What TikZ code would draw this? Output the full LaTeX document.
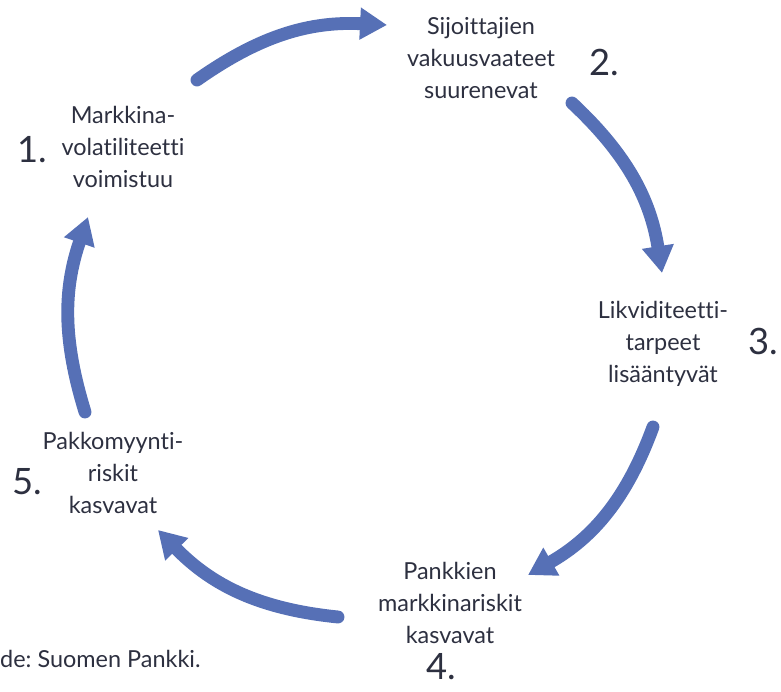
\documentclass[tikz,border=0pt]{standalone}
\usepackage{fontspec}
\setmainfont{Lato}[Ligatures={NoCommon}]
\usepackage{tikz}
\usetikzlibrary{arrows.meta}
\definecolor{cycblue}{RGB}{86,112,182}
\definecolor{txtgray}{RGB}{45,48,64}
\frenchspacing

\begin{document}
\begin{tikzpicture}[x=0.03cm, y=0.03cm,
        every node/.style={text=txtgray, inner sep=0pt},
        lbl/.style={align=center, font=\fontsize{20}{27}\selectfont},
        num/.style={font=\fontsize{31}{31}\selectfont},
        cyc/.style={-{Triangle[length=23pt, width=26pt]}, line width=11pt, draw=cycblue, line cap=round}]
        \useasboundingbox (0,0) rectangle (781,691);
        % steps of the cycle
        \node[lbl] (N1) at (123,544) {Markkina-\\volatiliteetti\\voimistuu};
        \node[lbl] (N2) at (481,633) {Sijoittajien\\vakuusvaateet\\suurenevat};
        \node[lbl] (N3) at (663,347) {Likviditeetti-\\tarpeet\\lisääntyvät};
        \node[lbl] (N4) at (450,88)  {Pankkien\\markkinariskit\\kasvavat};
        \node[lbl] (N5) at (113,218) {Pakkomyynti-\\riskit\\kasvavat};
        \node[num] (K1) at (32,541)  {1.};
        \node[num] (K2) at (604,629) {2.};
        \node[num] (K3) at (763,350) {3.};
        \node[num] (K4) at (441,24)  {4.};
        \node[num] (K5) at (27,209)  {5.};
        \node[anchor=west, font=\fontsize{20}{22}\selectfont] (src) at (0,32) {de: Suomen Pankki.};
        % arrows
        \coordinate (A1s) at (197,611); \coordinate (A1e) at (387,666);
        \coordinate (A2s) at (572,588); \coordinate (A2e) at (662,418);
        \coordinate (A3s) at (653,264); \coordinate (A3e) at (528,116);
        \coordinate (A4s) at (338,74);  \coordinate (A4e) at (158,161);
        \coordinate (A5s) at (85,279);  \coordinate (A5e) at (88,474);
        \foreach \i/\j/\b in {A1s/A1e/19,A2s/A2e/19,A3s/A3e/20,A4s/A4e/20,A5s/A5e/18}
            \draw[cyc] (\i) to[bend left=\b] (\j);
    \end{tikzpicture}
\end{document}
